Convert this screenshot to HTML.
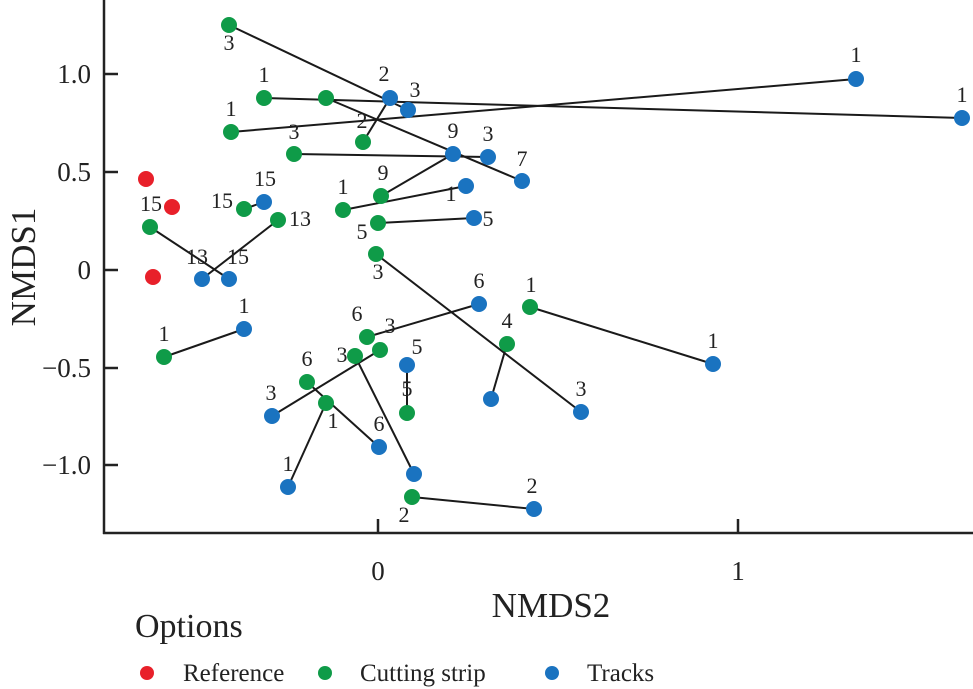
<!DOCTYPE html>
<html><head><meta charset="utf-8"><style>
html,body{margin:0;padding:0;background:#fff;}
svg{display:block;font-family:"Liberation Serif",serif;}
</style></head><body>
<svg width="973" height="689" viewBox="0 0 973 689">
<g stroke="#222" stroke-width="2.5" fill="none">
<line x1="104" y1="0" x2="104" y2="534"/>
<line x1="103" y1="533" x2="973" y2="533"/>
<line x1="104" y1="74" x2="118" y2="74"/>
<line x1="104" y1="172" x2="118" y2="172"/>
<line x1="104" y1="270" x2="118" y2="270"/>
<line x1="104" y1="368" x2="118" y2="368"/>
<line x1="104" y1="465" x2="118" y2="465"/>
<line x1="378" y1="533" x2="378" y2="519"/>
<line x1="738" y1="533" x2="738" y2="519"/>
</g>
<g font-size="27" fill="#222" text-anchor="end">
<text x="91" y="83">1.0</text>
<text x="91" y="181">0.5</text>
<text x="91" y="279">0</text>
<text x="91" y="377">−0.5</text>
<text x="91" y="474">−1.0</text>
</g>
<g font-size="27" fill="#222" text-anchor="middle">
<text x="378" y="580">0</text>
<text x="738" y="580">1</text>
<text x="551" y="617" font-size="35">NMDS2</text>
<text transform="translate(35,267) rotate(-90)" font-size="35">NMDS1</text>
</g>
<g stroke="#1a1a1a" stroke-width="2">
<line x1="229" y1="25" x2="408" y2="110"/>
<line x1="264" y1="98" x2="962" y2="118"/>
<line x1="326" y1="98" x2="522" y2="181"/>
<line x1="231" y1="132" x2="856" y2="79"/>
<line x1="363" y1="142" x2="390" y2="98"/>
<line x1="294" y1="154" x2="488" y2="157"/>
<line x1="381" y1="196" x2="453" y2="154"/>
<line x1="343" y1="210" x2="466" y2="186"/>
<line x1="378" y1="223" x2="474" y2="218"/>
<line x1="376" y1="254" x2="581" y2="412"/>
<line x1="244" y1="209" x2="264" y2="202"/>
<line x1="278" y1="220" x2="202" y2="279"/>
<line x1="150" y1="227" x2="229" y2="279"/>
<line x1="164" y1="357" x2="244" y2="329"/>
<line x1="367" y1="337" x2="479" y2="304"/>
<line x1="380" y1="350" x2="272" y2="416"/>
<line x1="355" y1="356" x2="414" y2="474"/>
<line x1="307" y1="382" x2="379" y2="447"/>
<line x1="326" y1="403" x2="288" y2="487"/>
<line x1="407" y1="413" x2="407" y2="365"/>
<line x1="530" y1="307" x2="713" y2="364"/>
<line x1="507" y1="344" x2="491" y2="399"/>
<line x1="412" y1="497" x2="534" y2="509"/>
</g>
<g fill="#1a73c0">
<circle cx="408" cy="110" r="8"/><circle cx="962" cy="118" r="8"/><circle cx="522" cy="181" r="8"/>
<circle cx="856" cy="79" r="8"/><circle cx="390" cy="98" r="8"/><circle cx="488" cy="157" r="8"/>
<circle cx="453" cy="154" r="8"/><circle cx="466" cy="186" r="8"/><circle cx="474" cy="218" r="8"/>
<circle cx="581" cy="412" r="8"/><circle cx="264" cy="202" r="8"/><circle cx="202" cy="279" r="8"/>
<circle cx="229" cy="279" r="8"/><circle cx="244" cy="329" r="8"/><circle cx="479" cy="304" r="8"/>
<circle cx="272" cy="416" r="8"/><circle cx="414" cy="474" r="8"/><circle cx="379" cy="447" r="8"/>
<circle cx="288" cy="487" r="8"/><circle cx="407" cy="365" r="8"/><circle cx="713" cy="364" r="8"/>
<circle cx="491" cy="399" r="8"/><circle cx="534" cy="509" r="8"/>
</g>
<g fill="#0f9b48">
<circle cx="229" cy="25" r="8"/><circle cx="264" cy="98" r="8"/><circle cx="326" cy="98" r="8"/>
<circle cx="231" cy="132" r="8"/><circle cx="363" cy="142" r="8"/><circle cx="294" cy="154" r="8"/>
<circle cx="381" cy="196" r="8"/><circle cx="343" cy="210" r="8"/><circle cx="378" cy="223" r="8"/>
<circle cx="376" cy="254" r="8"/><circle cx="244" cy="209" r="8"/><circle cx="278" cy="220" r="8"/>
<circle cx="150" cy="227" r="8"/><circle cx="164" cy="357" r="8"/><circle cx="367" cy="337" r="8"/>
<circle cx="380" cy="350" r="8"/><circle cx="355" cy="356" r="8"/><circle cx="307" cy="382" r="8"/>
<circle cx="326" cy="403" r="8"/><circle cx="407" cy="413" r="8"/><circle cx="530" cy="307" r="8"/>
<circle cx="507" cy="344" r="8"/><circle cx="412" cy="497" r="8"/>
</g>
<g fill="#e8202a">
<circle cx="146" cy="179" r="8"/><circle cx="172" cy="207" r="8"/><circle cx="153" cy="277" r="8"/>
</g>
<g font-size="22" fill="#222" text-anchor="middle">
<text x="229" y="50">3</text><text x="415" y="97">3</text><text x="962" y="102">1</text>
<text x="522" y="166">7</text><text x="856" y="62">1</text><text x="384" y="81">2</text>
<text x="264" y="82">1</text><text x="231" y="116">1</text><text x="362" y="128">2</text>
<text x="294" y="139">3</text><text x="488" y="141">3</text><text x="453" y="138">9</text>
<text x="383" y="180">9</text><text x="343" y="194">1</text><text x="451" y="201">1</text>
<text x="362" y="239">5</text><text x="488" y="226">5</text><text x="378" y="279">3</text>
<text x="265" y="186">15</text><text x="222" y="208">15</text><text x="300" y="226">13</text>
<text x="151" y="211">15</text><text x="197" y="264">13</text><text x="238" y="264">15</text>
<text x="164" y="341">1</text><text x="244" y="313">1</text><text x="357" y="321">6</text>
<text x="390" y="333">3</text><text x="479" y="288">6</text><text x="342" y="362">3</text>
<text x="271" y="400">3</text><text x="307" y="366">6</text><text x="333" y="428">1</text>
<text x="379" y="431">6</text><text x="288" y="471">1</text><text x="417" y="354">5</text>
<text x="407" y="396">5</text><text x="507" y="328">4</text><text x="531" y="292">1</text>
<text x="713" y="348">1</text><text x="581" y="396">3</text><text x="404" y="522">2</text>
<text x="532" y="493">2</text>
</g>
<text x="135" y="637" font-size="34" fill="#222">Options</text>
<circle cx="147" cy="673" r="7" fill="#e8202a"/>
<text x="183" y="681" font-size="25" fill="#222">Reference</text>
<circle cx="325" cy="673" r="7" fill="#0f9b48"/>
<text x="360" y="681" font-size="25" fill="#222">Cutting strip</text>
<circle cx="552" cy="673" r="7" fill="#1a73c0"/>
<text x="587" y="681" font-size="25" fill="#222">Tracks</text>
</svg>
</body></html>
